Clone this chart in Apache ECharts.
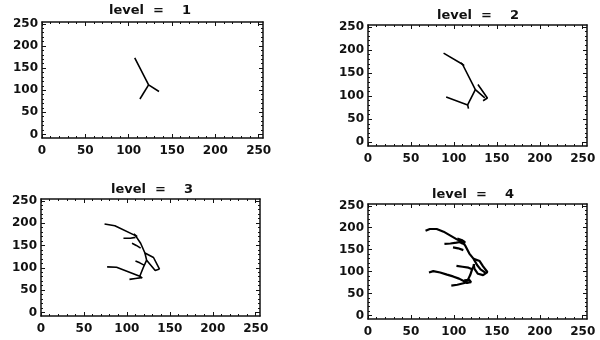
<!DOCTYPE html>
<html><head><meta charset="utf-8">
<script src="https://cdn.jsdelivr.net/npm/echarts@6/dist/echarts.min.js"></script>
<style>html,body{margin:0;padding:0;background:#fff}#c{width:600px;height:340px}</style>
</head><body><div id="c"></div>
<script>
const titles = ['level  =    1', 'level  =    2', 'level  =    3', 'level  =    4'];
const xTicks = [0, 50, 100, 150, 200, 250];
const yTicks = [0, 50, 100, 150, 200, 250];
const minorTicks = [0,10,20,30,40,50,60,70,80,90,100,110,120,130,140,150,160,170,180,190,200,210,220,230,240,250];

const level1 = [
  [[107,173],[123,112],[135,97]],
  [[123,112],[113,80]]
];
const level2 = [
  [[88,193],[110,169],[125,114],[136,96]],
  [[128,125],[139,96],[134,90]],
  [[125,114],[116,81],[91,98]],
  [[116,81],[117,73]],
  [[108,172],[112,166]]
];
const level3 = [
  [[74,198],[86,194],[110,172],[116,155],[121,133],[131,123],[138,97]],
  [[121,133],[123,117],[133,94],[138,97]],
  [[96,166],[104,166],[110,168]],
  [[106,155],[111,150],[116,144]],
  [[110,115],[115,111],[120,106]],
  [[77,102],[88,101],[115,81],[118,77]],
  [[123,117],[119,100],[115,81]],
  [[103,74],[110,76],[117,78]],
  [[108,176],[112,170]]
];
const level4 = [
  [[67,193],[72,197],[80,197],[88,191],[96,182],[103,174],[109,168],[113,160],[118,141],[123,129],[127,115],[131,105],[137,97]],
  [[89,163],[96,164],[103,166],[109,168]],
  [[99,155],[105,153],[111,149]],
  [[104,175],[109,172],[113,167],[110,164],[106,168]],
  [[103,113],[110,111],[117,109],[122,105]],
  [[123,129],[130,124],[134,112],[139,99],[134,92],[128,95],[124,106],[123,117]],
  [[71,98],[76,101],[84,98],[92,93],[99,89],[106,84],[112,78],[117,74]],
  [[97,68],[104,70],[110,73],[116,76]],
  [[124,117],[121,104],[119,92],[116,80]],
  [[112,80],[118,81],[120,76],[114,74]]
];
const levels = [level1, level2, level3, level4];

const grids = [
  {left: 42, right: 337, top: 22, bottom: 202},
  {left: 368, right: 13, top: 25, bottom: 194},
  {left: 41, right: 340, top: 199, bottom: 24},
  {left: 368, right: 13, top: 204, bottom: 21}
];
const titlePos = [[150, 11], [478, 16], [152, 190], [473, 195]];

const ink = '#111';
const lbl = {color: ink, fontFamily: 'DejaVu Sans', fontWeight: 'bold', fontSize: 12};

const xAxis = [], yAxis = [], series = [], graphic = [];
grids.forEach((g, gi) => {
  const mk = (pos, major, showLabel, isX) => ({
    gridIndex: gi, type: 'value', position: pos,
    min: isX ? 0 : -8, max: isX ? 255 : 254,
    axisLine: {show: major, onZero: false, lineStyle: {color: ink, width: 1.5}},
    axisTick: {show: true, inside: true, length: major ? 4 : 2, customValues: major ? (isX ? xTicks : yTicks) : minorTicks, lineStyle: {color: ink, width: 1}},
    axisLabel: showLabel ? Object.assign({show: true, customValues: isX ? xTicks : yTicks, margin: isX ? 7 : 4}, lbl) : {show: false},
    splitLine: {show: false}
  });
  xAxis.push(mk('bottom', true, true, true), mk('bottom', false, false, true), mk('top', true, false, true), mk('top', false, false, true));
  yAxis.push(mk('left', true, true, false), mk('left', false, false, false), mk('right', true, false, false), mk('right', false, false, false));
  levels[gi].forEach(poly => {
    series.push({
      type: 'line', xAxisIndex: gi * 4, yAxisIndex: gi * 4,
      data: poly, symbol: 'none', silent: true,
      lineStyle: {color: '#000', width: gi === 3 ? 2.2 : 1.6}
    });
  });
  graphic.push({
    type: 'text', x: titlePos[gi][0], y: titlePos[gi][1],
    style: {text: titles[gi], align: 'center', verticalAlign: 'middle', fill: ink, font: 'bold 13px "DejaVu Sans"'}
  });
});

const chart = echarts.init(document.getElementById('c'), null, {renderer: 'canvas'});
chart.setOption({
  animation: false,
  backgroundColor: '#fff',
  grid: grids.map(g => Object.assign({containLabel: false}, g)),
  xAxis, yAxis, series, graphic
});
</script>
</body></html>
